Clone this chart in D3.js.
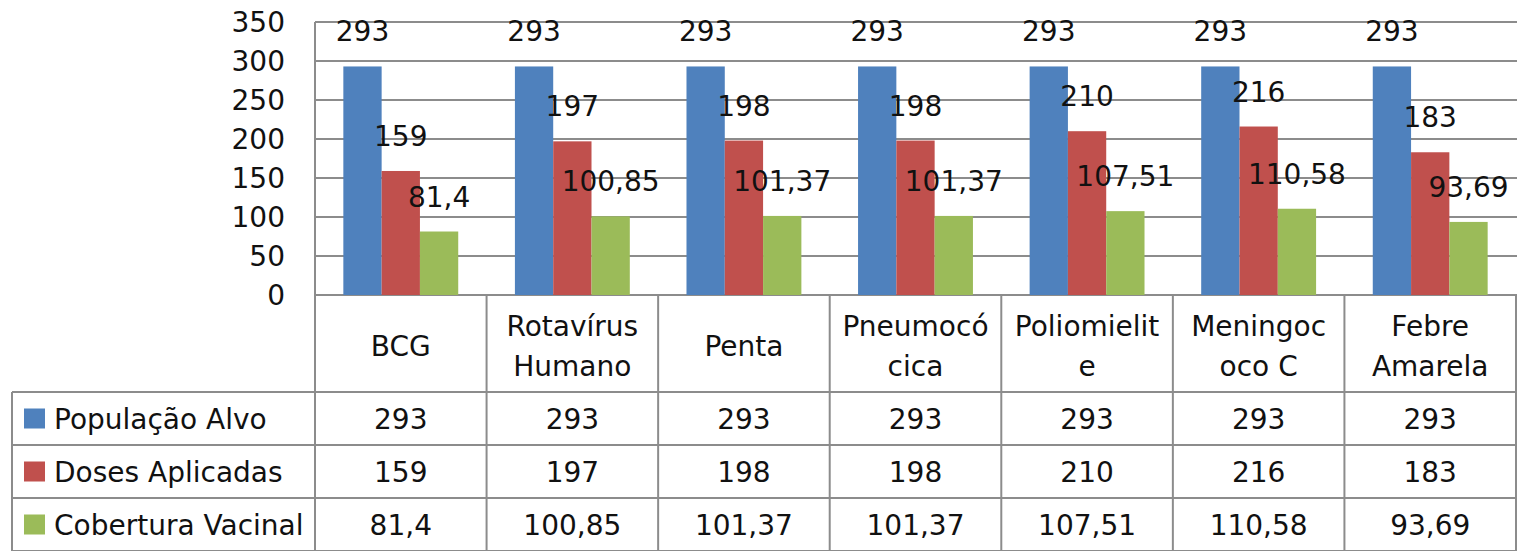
<!DOCTYPE html>
<html>
<head>
<meta charset="utf-8">
<script src="https://cdn.jsdelivr.net/npm/d3@7"></script>
<style>
  body { margin: 0; background: #fff; }
  svg text { font-family: "DejaVu Sans", Verdana, sans-serif; fill: #111; }
</style>
</head>
<body>
<svg id="chart" width="1517" height="551"></svg>
<script>
// data
var categories = ["BCG", "Rotavírus Humano", "Penta", "Pneumocócica", "Poliomielite", "Meningococo C", "Febre Amarela"];
// how the category names are broken in the table header
var categoryLines = [["BCG"], ["Rotavírus", "Humano"], ["Penta"], ["Pneumocó", "cica"], ["Poliomielit", "e"], ["Meningoc", "oco C"], ["Febre", "Amarela"]];
var seriesNames = ["População Alvo", "Doses Aplicadas", "Cobertura Vacinal"];
var populacaoAlvo = [293, 293, 293, 293, 293, 293, 293];
var dosesAplicadas = [159, 197, 198, 198, 210, 216, 183];
var coberturaVacinal = [81.4, 100.85, 101.37, 101.37, 107.51, 110.58, 93.69];
var yTicks = [0, 50, 100, 150, 200, 250, 300, 350];

var seriesValues = [populacaoAlvo, dosesAplicadas, coberturaVacinal];
var colors = ["#4f81bd", "#c0504d", "#9bbb59"];
var gridColor = "#8c8c8c";
var fontSize = 28;

var fmt = function(v) { return String(v).replace(".", ","); };

var svg = d3.select("#chart");

var plotLeft = 315, plotRight = 1516, plotTop = 22, plotBottom = 295;
var headBottom = 392, rowH = 53, tableLeft = 12;
var tableBottom = headBottom + rowH * 3;

var x0 = d3.scaleBand().domain(d3.range(categories.length)).range([plotLeft, plotRight]);
var x1 = d3.scaleBand().domain(d3.range(seriesNames.length)).range([0, x0.bandwidth()]).paddingOuter(0.74);
var y = d3.scaleLinear().domain([0, 350]).range([plotBottom, plotTop]);

// gridlines
svg.append("g").selectAll("line")
  .data(yTicks)
  .enter().append("line")
  .attr("x1", plotLeft).attr("x2", plotRight + 1)
  .attr("y1", function(d) { return y(d); })
  .attr("y2", function(d) { return y(d); })
  .attr("stroke", gridColor).attr("stroke-width", 2);

// y tick labels
svg.append("g").selectAll("text")
  .data(yTicks)
  .enter().append("text")
  .attr("x", 285)
  .attr("y", function(d) { return y(d); })
  .attr("dy", "0.36em")
  .attr("text-anchor", "end")
  .style("font-size", fontSize + "px")
  .text(function(d) { return d; });

// bars
var groups = svg.append("g").selectAll("g")
  .data(categories)
  .enter().append("g")
  .attr("transform", function(d, i) { return "translate(" + x0(i) + ",0)"; });

groups.selectAll("rect")
  .data(function(d, i) { return seriesValues.map(function(s, j) { return { s: j, v: s[i] }; }); })
  .enter().append("rect")
  .attr("x", function(d) { return x1(d.s); })
  .attr("width", x1.bandwidth())
  .attr("y", function(d) { return y(d.v); })
  .attr("height", function(d) { return plotBottom - y(d.v); })
  .attr("fill", function(d) { return colors[d.s]; });

groups.selectAll("text.lbl")
  .data(function(d, i) { return seriesValues.map(function(s, j) { return { s: j, v: s[i] }; }); })
  .enter().append("text")
  .attr("class", "lbl")
  .attr("x", function(d) { return x1(d.s) + x1.bandwidth() / 2; })
  .attr("y", function(d) { return y(d.v) - 25; })
  .attr("text-anchor", "middle")
  .style("font-size", fontSize + "px")
  .text(function(d) { return fmt(d.v); });

// data table lines
var table = svg.append("g").attr("stroke", gridColor).attr("stroke-width", 2);

// vertical axis line through the plot and table
table.append("line")
  .attr("x1", plotLeft).attr("x2", plotLeft)
  .attr("y1", plotTop).attr("y2", tableBottom);

// category boundaries in the table
table.selectAll("line.v")
  .data(d3.range(1, categories.length + 1))
  .enter().append("line")
  .attr("class", "v")
  .attr("x1", function(i) { return x0(i - 1) + x0.bandwidth(); })
  .attr("x2", function(i) { return x0(i - 1) + x0.bandwidth(); })
  .attr("y1", plotBottom).attr("y2", tableBottom);

// row lines
table.selectAll("line.h")
  .data(d3.range(4))
  .enter().append("line")
  .attr("class", "h")
  .attr("x1", tableLeft).attr("x2", plotRight + 1)
  .attr("y1", function(r) { return headBottom + r * rowH; })
  .attr("y2", function(r) { return headBottom + r * rowH; });

table.append("line")
  .attr("x1", tableLeft).attr("x2", tableLeft)
  .attr("y1", headBottom).attr("y2", tableBottom);

// category header text
var headMid = (plotBottom + headBottom) / 2 + 2;
groups.each(function(d, i) {
  var lines = categoryLines[i];
  var t = d3.select(this).append("text")
    .attr("text-anchor", "middle")
    .style("font-size", fontSize + "px");
  lines.forEach(function(l, k) {
    t.append("tspan")
      .attr("x", x0.bandwidth() / 2)
      .attr("y", headMid + (k - (lines.length - 1) / 2) * 40)
      .attr("dy", "0.36em")
      .text(l);
  });
});

// legend rows with values
seriesNames.forEach(function(name, j) {
  var cy = headBottom + j * rowH + rowH / 2;
  svg.append("rect")
    .attr("x", 24).attr("y", cy - 10)
    .attr("width", 21).attr("height", 20)
    .attr("fill", colors[j]);
  svg.append("text")
    .attr("x", 54).attr("y", cy)
    .attr("dy", "0.36em")
    .style("font-size", fontSize + "px")
    .text(name);
  svg.append("g").selectAll("text")
    .data(seriesValues[j])
    .enter().append("text")
    .attr("x", function(v, i) { return x0(i) + x0.bandwidth() / 2; })
    .attr("y", cy)
    .attr("dy", "0.36em")
    .attr("text-anchor", "middle")
    .style("font-size", fontSize + "px")
    .text(function(v) { return fmt(v); });
});
</script>
</body>
</html>
